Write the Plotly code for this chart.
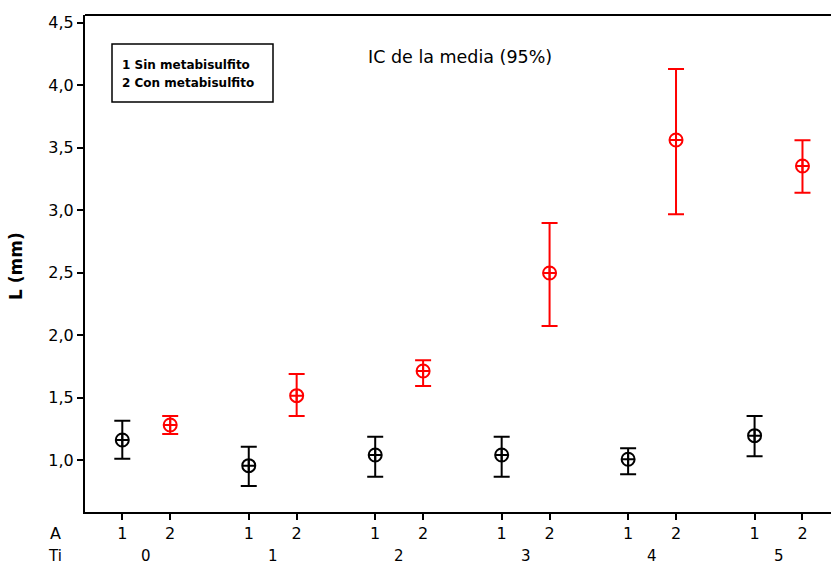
import plotly.graph_objects as go

# ---- data ----
groups = ["0", "1", "2", "3", "4", "5"]          # Ti
levels = ["1", "2"]                                # A
mean_a1 = [1.162, 0.957, 1.042, 1.042, 1.008, 1.197]
upper_a1 = [1.317, 1.109, 1.189, 1.189, 1.096, 1.354]
lower_a1 = [1.013, 0.794, 0.869, 0.869, 0.888, 1.032]
mean_a2 = [1.282, 1.517, 1.714, 2.498, 3.562, 3.354]
upper_a2 = [1.354, 1.690, 1.800, 2.898, 4.130, 3.560]
lower_a2 = [1.210, 1.354, 1.594, 2.074, 2.968, 3.141]
yticks = [1.0, 1.5, 2.0, 2.5, 3.0, 3.5, 4.0, 4.5]

GAP = 2.64  # spacing between Ti groups in x units
x_a1 = [i * GAP for i in range(len(groups))]
x_a2 = [i * GAP + 1 for i in range(len(groups))]

W, H = 831, 567
L, R, T, B = 85, 0, 15, 55
pw, ph = W - L - R, H - T - B

def px(x):
    return (x - L) / pw

def py(y):
    return (H - B - y) / ph

fig = go.Figure()

def add(xs, m, up, lo, color):
    fig.add_trace(go.Scatter(
        x=xs, y=m, mode="markers",
        marker=dict(symbol="circle-cross-open", size=13, color=color,
                    line=dict(width=2, color=color)),
        error_y=dict(type="data", symmetric=False,
                     array=[u - v for u, v in zip(up, m)],
                     arrayminus=[v - l for v, l in zip(m, lo)],
                     color=color, thickness=2, width=8),
        showlegend=False, cliponaxis=False))

add(x_a1, mean_a1, upper_a1, lower_a1, "black")
add(x_a2, mean_a2, upper_a2, lower_a2, "#ff0000")

xvals = []
xtext = []
for a1, a2 in zip(x_a1, x_a2):
    xvals += [a1, a2]
    xtext += levels

x0 = (L - 122.3) / 47.9
x1 = (W - 122.3) / 47.9

font = "DejaVu Sans"
fig.update_layout(
    width=W, height=H,
    margin=dict(l=L, r=R, t=T, b=B),
    paper_bgcolor="white", plot_bgcolor="white",
    separators=",.",
    font=dict(family=font, size=16, color="black"),
    xaxis=dict(range=[x0, x1], tickvals=xvals, ticktext=xtext,
               showgrid=False, zeroline=False, showline=True,
               linecolor="black", linewidth=2, ticks="outside",
               ticklen=6, tickwidth=1.5, tickcolor="black",
               tickfont=dict(size=16)),
    yaxis=dict(range=[0.586, 4.562], tickvals=yticks, tickformat=".1f",
               showgrid=False, zeroline=False, showline=True,
               linecolor="black", linewidth=2, ticks="outside",
               ticklen=6, tickwidth=1.5, tickcolor="black",
               tickfont=dict(size=16)),
)

# top frame line
fig.add_shape(type="line", xref="paper", yref="paper", x0=0, x1=1, y0=1, y1=1,
              line=dict(color="black", width=2))

# legend box
fig.add_shape(type="rect", xref="paper", yref="paper",
              x0=px(112), x1=px(273), y0=py(102), y1=py(44),
              line=dict(color="black", width=1.5), fillcolor="white", layer="below")
fig.add_annotation(xref="paper", yref="paper", x=px(120), y=py(65),
                   xanchor="left", yanchor="middle", showarrow=False,
                   text="<b>1 Sin metabisulfito</b>", font=dict(size=12))
fig.add_annotation(xref="paper", yref="paper", x=px(120), y=py(83),
                   xanchor="left", yanchor="middle", showarrow=False,
                   text="<b>2 Con metabisulfito</b>", font=dict(size=12))

# title-like inner text
fig.add_annotation(xref="paper", yref="paper", x=px(460), y=py(57),
                   xanchor="center", yanchor="middle", showarrow=False,
                   text="IC de la media (95%)", font=dict(size=17.5))

# y axis title
fig.add_annotation(xref="paper", yref="paper", x=px(16), y=py(266),
                   xanchor="center", yanchor="middle", showarrow=False,
                   textangle=-90, text="<b>L (mm)</b>", font=dict(size=17))

# row labels
fig.add_annotation(xref="paper", yref="paper", x=px(55), y=py(533),
                   xanchor="center", yanchor="middle", showarrow=False,
                   text="A", font=dict(size=16))
fig.add_annotation(xref="paper", yref="paper", x=px(55), y=py(556),
                   xanchor="center", yanchor="middle", showarrow=False,
                   text="Ti", font=dict(size=15))
for g, a1, a2 in zip(groups, x_a1, x_a2):
    fig.add_annotation(xref="x", yref="paper", x=(a1 + a2) / 2, y=py(556),
                       xanchor="center", yanchor="middle", showarrow=False,
                       text=g, font=dict(size=15))

fig.write_html("out.html")
